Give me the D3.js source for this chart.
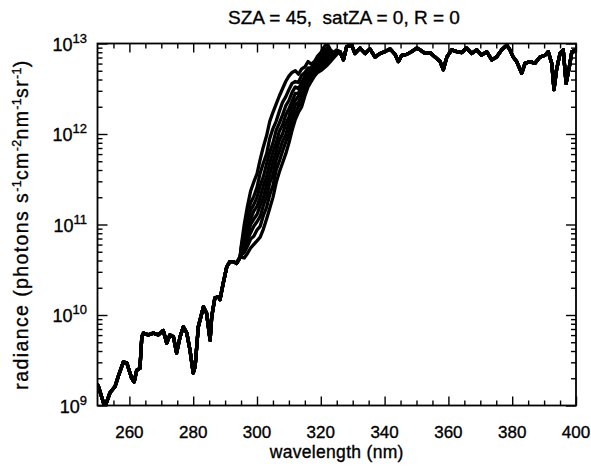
<!DOCTYPE html>
<html><head><meta charset="utf-8">
<script src="https://cdn.jsdelivr.net/npm/d3@7"></script>
<style>body{margin:0;background:#fff}svg{display:block}</style>
</head><body>
<svg id="c" width="591" height="467"></svg>
<script>
// ---- data (log10 radiance) ----
const lowWl  = [250, 250.3, 252.3, 253.9, 255.5, 256.5, 258.1, 259.2, 260.7, 261.5, 262.3, 263.3, 263.9, 264.4, 265.9, 267.5, 269.1, 270.6, 271.7, 272.7, 273.8, 274.8, 275.9, 276.9, 278.0, 279.0, 280.0, 280.6, 281.6, 283.2, 284.2, 285.3, 285.8, 286.8, 287.9, 288.4, 289.4, 290.5, 291.5, 292.6, 293.6, 294.7];
const lowLog = [9.23, 9.21, 8.98, 9.14, 9.21, 9.32, 9.48, 9.47, 9.30, 9.26, 9.39, 9.41, 9.76, 9.80, 9.78, 9.80, 9.78, 9.83, 9.69, 9.78, 9.76, 9.58, 9.76, 9.87, 9.80, 9.61, 9.36, 9.43, 9.87, 10.09, 10.02, 9.72, 9.98, 10.19, 10.20, 10.17, 10.35, 10.53, 10.59, 10.59, 10.57, 10.64];

const bandWl = [295, 296, 297, 298, 299, 300, 301, 302, 303, 304, 305, 306, 307, 308, 309, 310, 311, 312, 313, 314, 315, 316, 317, 318, 319, 320, 321, 322, 323, 324, 325, 326];
const bandA = [10.75, 11.00, 11.20, 11.37, 11.47, 11.56, 11.72, 11.86, 11.98, 12.14, 12.24, 12.33, 12.42, 12.50, 12.58, 12.64, 12.68, 12.70, 12.66, 12.72, 12.74, 12.80, 12.77, 12.80, 12.86, 12.90, 12.96, 13.00, 12.93, 12.90, 12.93, 12.91];
const bandB = [10.73, 10.93, 11.12, 11.24, 11.31, 11.41, 11.57, 11.68, 11.78, 11.95, 12.06, 12.14, 12.25, 12.35, 12.41, 12.49, 12.56, 12.58, 12.57, 12.65, 12.68, 12.73, 12.73, 12.78, 12.82, 12.85, 12.91, 12.95, 12.90, 12.89, 12.92, 12.91];
const bandC = [10.71, 10.87, 11.02, 11.16, 11.22, 11.30, 11.43, 11.53, 11.67, 11.80, 11.90, 12.04, 12.12, 12.21, 12.31, 12.37, 12.46, 12.52, 12.50, 12.57, 12.64, 12.69, 12.71, 12.74, 12.80, 12.83, 12.87, 12.92, 12.88, 12.88, 12.91, 12.91];
const bandD = [10.70, 10.82, 10.96, 11.06, 11.15, 11.20, 11.30, 11.43, 11.53, 11.68, 11.80, 11.90, 12.03, 12.10, 12.21, 12.28, 12.36, 12.45, 12.45, 12.53, 12.58, 12.67, 12.67, 12.72, 12.77, 12.81, 12.85, 12.88, 12.87, 12.87, 12.91, 12.91];
const bandE = [10.68, 10.78, 10.88, 11.00, 11.06, 11.11, 11.21, 11.30, 11.44, 11.55, 11.69, 11.80, 11.93, 12.00, 12.11, 12.19, 12.31, 12.37, 12.42, 12.46, 12.56, 12.62, 12.66, 12.70, 12.75, 12.78, 12.82, 12.86, 12.85, 12.86, 12.90, 12.91];
const bandF = [10.67, 10.73, 10.83, 10.91, 10.98, 11.03, 11.09, 11.21, 11.31, 11.46, 11.55, 11.71, 11.81, 11.92, 11.99, 12.12, 12.21, 12.32, 12.35, 12.43, 12.50, 12.60, 12.63, 12.68, 12.73, 12.76, 12.79, 12.83, 12.84, 12.86, 12.89, 12.91];
const bandG = [10.66, 10.69, 10.76, 10.84, 10.87, 10.94, 10.98, 11.10, 11.19, 11.33, 11.43, 11.60, 11.70, 11.81, 11.91, 12.00, 12.15, 12.23, 12.31, 12.35, 12.48, 12.55, 12.61, 12.66, 12.71, 12.73, 12.76, 12.80, 12.82, 12.85, 12.89, 12.91];
const bandH = [10.64, 10.63, 10.68, 10.74, 10.78, 10.82, 10.86, 10.95, 11.06, 11.18, 11.30, 11.46, 11.58, 11.68, 11.78, 11.90, 12.04, 12.16, 12.24, 12.30, 12.42, 12.52, 12.58, 12.64, 12.68, 12.70, 12.73, 12.76, 12.80, 12.84, 12.88, 12.91];

const highWl  = [327.1, 328.1, 329.7, 330.7, 332.3, 333.9, 335.4, 337.0, 338.6, 340.1, 341.7, 343.3, 344.3, 345.4, 346.9, 348.5, 350.1, 351.1, 352.7, 354.2, 355.8, 357.4, 358.4, 359.5, 361.0, 362.6, 364.2, 365.7, 367.3, 368.9, 370.4, 372.0, 373.6, 375.1, 376.7, 378.3, 379.3, 380.3, 381.4, 383.0, 384.0, 385.6, 387.1, 388.7, 390.3, 391.3, 392.4, 393.1, 393.9, 395.0, 396.0, 396.9, 397.9, 398.7, 400];
const highLog = [12.82, 12.965, 12.98, 12.89, 12.95, 12.89, 12.94, 12.85, 12.89, 12.91, 12.94, 12.88, 12.80, 12.87, 12.88, 12.91, 12.95, 12.93, 12.89, 12.90, 12.85, 12.80, 12.71, 12.85, 12.93, 12.91, 12.90, 12.95, 12.89, 12.93, 12.87, 12.91, 12.82, 12.85, 12.93, 12.98, 12.93, 12.85, 12.80, 12.67, 12.78, 12.80, 12.78, 12.85, 12.87, 12.91, 12.78, 12.49, 12.71, 12.89, 12.93, 12.56, 12.74, 12.91, 12.93];

const bands = [bandA, bandB, bandC, bandD, bandE, bandF, bandG, bandH];

const xTickValues = [260, 280, 300, 320, 340, 360, 380, 400];
const xTickLabels = ["260", "280", "300", "320", "340", "360", "380", "400"];
const yTickExps = [9, 10, 11, 12, 13];

const titleText = "SZA = 45,  satZA = 0, R = 0";
const xTitle = "wavelength (nm)";

// ---- layout ----
const W = 591, H = 467;
const m = {l: 97.5, r: 15, t: 43.5, b: 61.5};
const svg = d3.select('#c');
const x = d3.scaleLinear().domain([250, 400]).range([m.l, W - m.r]);
const y = d3.scaleLog().domain([1e9, 1e13]).range([H - m.b, m.t]);
const FONT = "'Liberation Sans', Arial, Helvetica, sans-serif";

svg.append('defs').append('clipPath').attr('id', 'clip')
  .append('rect').attr('x', m.l).attr('y', m.t)
  .attr('width', x(400) - m.l).attr('height', y(1e9) - m.t);

// curves
const line = d3.line().x(d => x(d[0])).y(d => y(Math.pow(10, d[1])));
const gLines = svg.append('g').attr('clip-path', 'url(#clip)');
bands.forEach(b => {
  const pts = [];
  lowWl.forEach((w, i) => pts.push([w, lowLog[i]]));
  bandWl.forEach((w, i) => pts.push([w, b[i]]));
  highWl.forEach((w, i) => pts.push([w, highLog[i]]));
  gLines.append('path').datum(pts).attr('d', line)
    .attr('fill', 'none').attr('stroke', '#000').attr('stroke-width', 3.3)
    .attr('stroke-linejoin', 'round').attr('stroke-linecap', 'round');
});

// axes ticks (inward)
const xMinor = d3.range(255, 400, 5).filter(v => !xTickValues.includes(v));
const yMinor = [];
yTickExps.slice(0, -1).forEach(e => { for (let k = 2; k <= 9; k++) yMinor.push(k * Math.pow(10, e)); });
const yMajor = yTickExps.map(e => Math.pow(10, e));

function styleAxis(g) {
  g.select('.domain').remove();
  g.selectAll('line').attr('stroke', '#000').attr('stroke-width', 1.4);
  g.selectAll('text').remove();
}
const yb = y(1e9), yt = y(1e13), xl = x(250), xr = x(400);
svg.append('g').attr('transform', `translate(0,${yb})`).call(d3.axisBottom(x).tickValues(xTickValues).tickSize(-9)).call(styleAxis);
svg.append('g').attr('transform', `translate(0,${yb})`).call(d3.axisBottom(x).tickValues(xMinor).tickSize(-5)).call(styleAxis);
svg.append('g').attr('transform', `translate(0,${yt})`).call(d3.axisTop(x).tickValues(xTickValues).tickSize(-9)).call(styleAxis);
svg.append('g').attr('transform', `translate(0,${yt})`).call(d3.axisTop(x).tickValues(xMinor).tickSize(-5)).call(styleAxis);
svg.append('g').attr('transform', `translate(${xl},0)`).call(d3.axisLeft(y).tickValues(yMajor).tickSize(-10)).call(styleAxis);
svg.append('g').attr('transform', `translate(${xl},0)`).call(d3.axisLeft(y).tickValues(yMinor).tickSize(-5)).call(styleAxis);
svg.append('g').attr('transform', `translate(${xr},0)`).call(d3.axisRight(y).tickValues(yMajor).tickSize(-10)).call(styleAxis);
svg.append('g').attr('transform', `translate(${xr},0)`).call(d3.axisRight(y).tickValues(yMinor).tickSize(-5)).call(styleAxis);

// frame
svg.append('rect').attr('x', xl).attr('y', yt).attr('width', xr - xl).attr('height', yb - yt)
  .attr('fill', 'none').attr('stroke', '#000').attr('stroke-width', 1.8);

function txt(sel) {
  return sel.attr('font-family', FONT).attr('fill', '#000')
    .attr('stroke', '#000').attr('stroke-width', 0.35);
}

// x tick labels
svg.append('g').selectAll('text').data(xTickValues).join('text')
  .attr('x', d => x(d)).attr('y', 438).attr('text-anchor', 'middle')
  .attr('font-size', 17).call(txt).text((d, i) => xTickLabels[i]);

// y tick labels 10^n
const yl = svg.append('g').selectAll('text').data(yTickExps).join('text')
  .attr('x', 87).attr('y', d => y(Math.pow(10, d)) + 7).attr('text-anchor', 'end')
  .attr('font-size', 18).call(txt);
yl.append('tspan').text('10');
yl.append('tspan').attr('font-size', 13).attr('dy', -8).text(d => String(d));

// titles
svg.append('text').attr('x', 344).attr('y', 24).attr('text-anchor', 'middle')
  .attr('font-size', 19).style('white-space', 'pre').call(txt).text(titleText);
svg.append('text').attr('x', (xl + xr) / 2).attr('y', 458).attr('text-anchor', 'middle')
  .attr('font-size', 17.5).attr('letter-spacing', 0.3).call(txt).text(xTitle);

const yT = svg.append('text').attr('transform', `translate(28,${(yt + yb) / 2}) rotate(-90)`)
  .attr('text-anchor', 'middle').attr('font-size', 19.5).attr('letter-spacing', 1.4).call(txt);
const parts = [["radiance (photons s", 0], ["-1", 1], ["cm", 0], ["-2", 1], ["nm", 0], ["-1", 1], ["sr", 0], ["-1", 1], [")", 0]];
let prevSup = false;
parts.forEach(([t, sup]) => {
  const ts = yT.append('tspan').text(t);
  if (sup) { ts.attr('font-size', 12.5).attr('dy', -7).attr('letter-spacing', 0.3); prevSup = true; }
  else if (prevSup) { ts.attr('dy', 7); prevSup = false; }
});
</script>
</body></html>
